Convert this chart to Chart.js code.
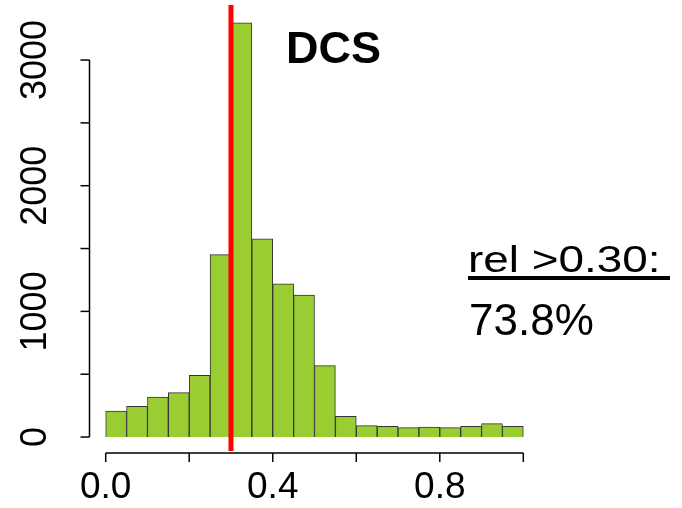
<!DOCTYPE html>
<html>
<head>
<meta charset="utf-8">
<script src="https://cdn.jsdelivr.net/npm/chart.js@4"></script>
<style>
  body { margin: 0; background: #fff; }
  #wrap { width: 682px; height: 508px; }
</style>
</head>
<body>
<div id="wrap"><canvas id="histChart" width="682" height="508"></canvas></div>
<script>
// histogram bins (centre of each 0.05 wide bin) and counts
var binCenters = [0.025, 0.075, 0.125, 0.175, 0.225, 0.275, 0.325, 0.375, 0.425, 0.475,
                  0.525, 0.575, 0.625, 0.675, 0.725, 0.775, 0.825, 0.875, 0.925, 0.975];
var counts = [207, 244, 318, 353, 491, 1451, 3297, 1578, 1220, 1130,
              568, 165, 91, 85, 75, 80, 75, 85, 107, 85];

var xTicks = [0, 0.2, 0.4, 0.6, 0.8, 1.0];
var xTickLabels = ['0.0', '', '0.4', '', '0.8', ''];
var yTicks = [0, 500, 1000, 1500, 2000, 2500, 3000];
var yTickLabels = ['0', '', '1000', '', '2000', '', '3000'];

var cutoff = 0.30;
var titleText = 'DCS';
var noteLine1 = 'rel >0.30:';
var noteLine2 = '73.8%';

var font = '"Liberation Sans", Arial, sans-serif';

var axesPlugin = {
  id: 'rAxes',
  afterDatasetsDraw: function (chart) {
    var ctx = chart.ctx;
    var xs = chart.scales.x, ys = chart.scales.y;
    var area = chart.chartArea;
    ctx.save();

    // red cutoff line
    var cx = xs.getPixelForValue(cutoff);
    ctx.strokeStyle = '#ff0000';
    ctx.lineWidth = 5;
    ctx.beginPath();
    ctx.moveTo(cx, area.top);
    ctx.lineTo(cx, area.bottom);
    ctx.stroke();

    ctx.strokeStyle = '#000';
    ctx.fillStyle = '#000';
    ctx.lineWidth = 1.5;

    // y axis
    var ax = area.left + 0.5;
    ctx.beginPath();
    ctx.moveTo(ax, ys.getPixelForValue(yTicks[0]));
    ctx.lineTo(ax, ys.getPixelForValue(yTicks[yTicks.length - 1]));
    ctx.stroke();
    ctx.font = '36px ' + font;
    ctx.textAlign = 'center';
    ctx.textBaseline = 'middle';
    yTicks.forEach(function (v, i) {
      var py = ys.getPixelForValue(v);
      ctx.beginPath();
      ctx.moveTo(ax, py);
      ctx.lineTo(ax - 9, py);
      ctx.stroke();
      if (yTickLabels[i]) {
        ctx.save();
        ctx.translate(36, py);
        ctx.rotate(-Math.PI / 2);
        ctx.fillText(yTickLabels[i], 0, 0);
        ctx.restore();
      }
    });

    // x axis
    var ay = 453;
    ctx.beginPath();
    ctx.moveTo(xs.getPixelForValue(xTicks[0]), ay);
    ctx.lineTo(xs.getPixelForValue(xTicks[xTicks.length - 1]), ay);
    ctx.stroke();
    ctx.font = '37px ' + font;
    ctx.textBaseline = 'alphabetic';
    xTicks.forEach(function (v, i) {
      var px = xs.getPixelForValue(v);
      ctx.beginPath();
      ctx.moveTo(px, ay);
      ctx.lineTo(px, ay + 9);
      ctx.stroke();
      if (xTickLabels[i]) ctx.fillText(xTickLabels[i], px, 498);
    });

    // title and note
    ctx.textAlign = 'left';
    ctx.font = 'bold 45px ' + font;
    ctx.fillText(titleText, 286, 63);

    ctx.save();
    ctx.translate(468, 272);
    ctx.scale(1.24, 1);
    ctx.font = '37px ' + font;
    ctx.fillText(noteLine1, 0, 0);
    ctx.restore();
    ctx.fillRect(468, 276, 202, 4);

    ctx.font = '44px ' + font;
    ctx.fillText(noteLine2, 469, 335);

    ctx.restore();
  }
};

var ctx = document.getElementById('histChart').getContext('2d');
var histChart = new Chart(ctx, {
  type: 'bar',
  data: {
    datasets: [{
      data: binCenters.map(function (c, i) { return { x: c, y: counts[i] }; }),
      backgroundColor: '#9acd32',
      borderColor: '#333',
      borderWidth: 1,
      barPercentage: 1,
      categoryPercentage: 1
    }]
  },
  options: {
    responsive: false,
    animation: false,
    layout: { padding: { left: 89, right: 142, top: 5, bottom: 57 } },
    plugins: { legend: { display: false }, tooltip: { enabled: false } },
    scales: {
      x: { type: 'linear', min: -0.04, max: 1.04, offset: false, display: false },
      y: { type: 'linear', min: -111, max: 3438, display: false }
    }
  },
  plugins: [axesPlugin]
});
</script>
</body>
</html>
